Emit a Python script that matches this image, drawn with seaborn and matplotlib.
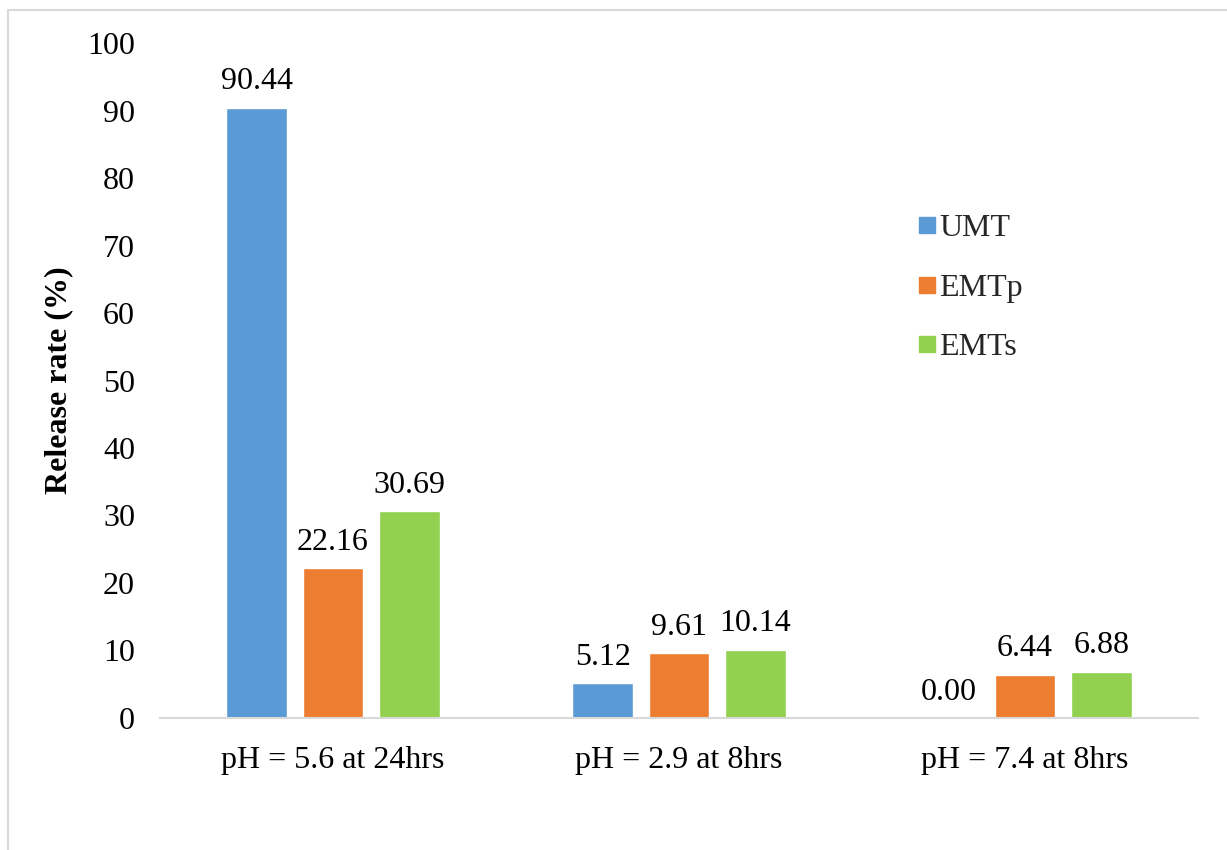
import matplotlib
matplotlib.use("Agg")
import matplotlib.pyplot as plt
from matplotlib.lines import Line2D
from matplotlib.patches import Rectangle
import seaborn as sns
import pandas as pd

# Release data per condition
conditions = ["pH = 5.6 at 24hrs", "pH = 2.9 at 8hrs", "pH = 7.4 at 8hrs"]
series_names = ["UMT", "EMTp", "EMTs"]
umt = [90.44, 5.12, 0.00]
emtp = [22.16, 9.61, 6.44]
emts = [30.69, 10.14, 6.88]
y_ticks = [0, 10, 20, 30, 40, 50, 60, 70, 80, 90, 100]

colors = ["#5B9BD5", "#ED7D31", "#92D050"]
FS = 23

rows = []
for name, vals in zip(series_names, [umt, emtp, emts]):
    for cond, v in zip(conditions, vals):
        rows.append({"Condition": cond, "Sample": name, "Release": v})
df = pd.DataFrame(rows)

sns.set_theme(style="white")
plt.rcParams["font.family"] = ["Liberation Serif", "DejaVu Serif"]

fig = plt.figure(figsize=(12.27, 8.5), dpi=100)
ax = fig.add_axes([0.1304, 0.1553, 0.8460, 0.7941])

sns.barplot(data=df, x="Condition", y="Release", hue="Sample",
            order=conditions, hue_order=series_names, palette=colors,
            width=0.66, gap=0.2, errorbar=None, legend=False, ax=ax,
            saturation=1)

for cont in ax.containers:
    ax.bar_label(cont, fmt="%.2f", padding=8, fontsize=FS, color="#000000")

ax.set_ylim(0, 100)
ax.set_xlim(-0.5, 2.5)
ax.set_yticks(y_ticks)
ax.tick_params(axis="y", length=0, pad=18, labelsize=FS, colors="#000000")
ax.tick_params(axis="x", length=0, pad=20, labelsize=FS, colors="#000000")
ax.set_xlabel("")
ax.set_ylabel("Release rate (%)", fontsize=FS, fontweight="bold", color="#000000")
ax.yaxis.set_label_coords(-0.0838, 0.5)

for side in ["top", "right", "left"]:
    ax.spines[side].set_visible(False)
ax.spines["bottom"].set_color("#d9d9d9")
ax.spines["bottom"].set_linewidth(1.5)

handles = [Line2D([0], [0], marker="s", linestyle="none", markersize=12,
                  markerfacecolor=c, markeredgecolor=c) for c in colors]
fig.legend(handles, series_names, loc="center left",
           bbox_to_anchor=(0.746, 1 - 288 / 850), frameon=False,
           fontsize=FS, labelspacing=0.94, handlelength=0.7,
           handletextpad=0.05, borderpad=0, borderaxespad=0)

fig.patches.append(Rectangle((8 / 1227, -0.05), 1.0, 1 - 10 / 850 + 0.05,
                             transform=fig.transFigure, fill=False,
                             edgecolor="#d9d9d9", linewidth=1.5))

fig.savefig("out.png", dpi=100)
